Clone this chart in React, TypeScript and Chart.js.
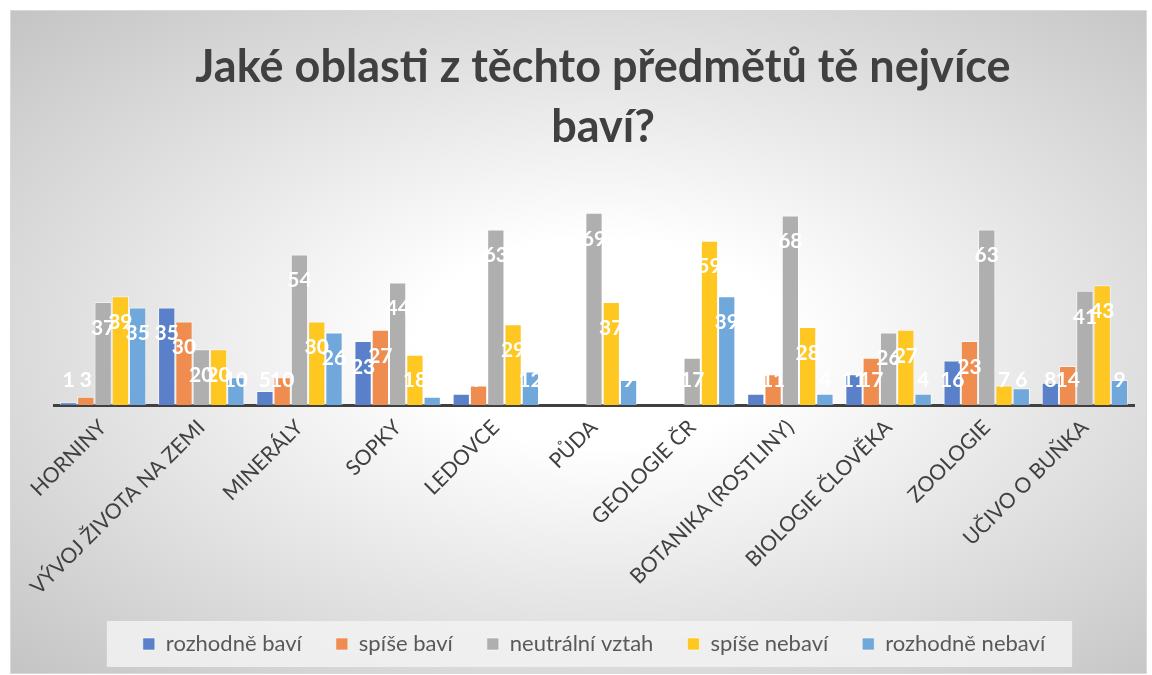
import React, { useEffect, useRef } from 'react';
import { Chart, registerables } from 'chart.js';

Chart.register(...registerables);

const categories = [
  'HORNINY',
  'VÝVOJ ŽIVOTA NA ZEMI',
  'MINERÁLY',
  'SOPKY',
  'LEDOVCE',
  'PŮDA',
  'GEOLOGIE ČR',
  'BOTANIKA (ROSTLINY)',
  'BIOLOGIE ČLOVĚKA',
  'ZOOLOGIE',
  'UČIVO O BUŇKA',
];
const rozhodneBavi = [1, 35, 5, 23, 4, 0, 0, 4, 11, 16, 8];
const spiseBavi = [3, 30, 10, 27, 7, 0, 0, 11, 17, 23, 14];
const neutralniVztah = [37, 20, 54, 44, 63, 69, 17, 68, 26, 63, 41];
const spiseNebavi = [39, 20, 30, 18, 29, 37, 59, 28, 27, 7, 43];
const rozhodneNebavi = [35, 10, 26, 3, 12, 9, 39, 4, 4, 6, 9];
const seriesNames = ['rozhodně baví', 'spíše baví', 'neutrální vztah', 'spíše nebaví', 'rozhodně nebaví'];
const seriesColors = ['#5A80C9', '#EE8D4F', '#AFAFAF', '#FFC721', '#70A8DB'];
const titleLines = ['Jaké oblasti z těchto předmětů tě nejvíce', 'baví?'];

const FONT = 'Lato, "Open Sans", sans-serif';

const titlePlugin = {
  id: 'customTitle',
  afterDraw(chart: any) {
    const ctx = chart.ctx;
    ctx.save();
    ctx.fillStyle = '#404040';
    ctx.font = `bold 45px ${FONT}`;
    ctx.textAlign = 'center';
    ctx.textBaseline = 'middle';
    const cx = (chart.chartArea.left + chart.chartArea.right) / 2 + 9;
    titleLines.forEach((line, i) => {
      ctx.fillText(line, cx, 56 + i * 60);
    });
    ctx.restore();
  },
};

const legendBoxPlugin = {
  id: 'legendBox',
  beforeDraw(chart: any) {
    const lg = chart.legend;
    if (!lg || !lg.legendHitBoxes || !lg.legendHitBoxes.length) return;
    const boxes = lg.legendHitBoxes;
    const left = Math.min(...boxes.map((b: any) => b.left));
    const right = Math.max(...boxes.map((b: any) => b.left + b.width));
    const top = boxes[0].top;
    const h = boxes[0].height;
    const ctx = chart.ctx;
    ctx.save();
    ctx.fillStyle = 'rgba(242,242,242,0.85)';
    ctx.fillRect(left - 36, top + h / 2 - 23, right - left + 63, 46);
    ctx.restore();
  },
};

const valueLabelPlugin = {
  id: 'valueLabels',
  afterDatasetsDraw(chart: any) {
    const ctx = chart.ctx;
    ctx.save();
    ctx.fillStyle = '#FFFFFF';
    ctx.font = `bold 21px ${FONT}`;
    ctx.textAlign = 'center';
    ctx.textBaseline = 'middle';
    chart.data.datasets.forEach((ds: any, di: number) => {
      const meta = chart.getDatasetMeta(di);
      meta.data.forEach((bar: any, i: number) => {
        const v = ds.data[i];
        if (!v) return;
        const y = Math.min(bar.y + 26, bar.base - 25);
        ctx.fillText(String(v), bar.x, y);
      });
    });
    ctx.restore();
  },
};

export default function App() {
  const ref = useRef<HTMLCanvasElement>(null);

  useEffect(() => {
    if (!ref.current) return;
    const series = [rozhodneBavi, spiseBavi, neutralniVztah, spiseNebavi, rozhodneNebavi];
    const chart = new Chart(ref.current, {
      type: 'bar',
      data: {
        labels: categories,
        datasets: series.map((d, i) => ({
          label: seriesNames[i],
          data: d,
          backgroundColor: seriesColors[i],
          borderColor: 'rgba(255,255,255,0.55)',
          borderWidth: 1,
          categoryPercentage: 0.88,
          barPercentage: 1.0,
        })),
      },
      options: {
        animation: false,
        responsive: false,
        layout: { padding: { left: 43, right: 12, top: 199, bottom: 8 } },
        plugins: {
          title: { display: false },
          tooltip: { enabled: false },
          legend: {
            display: true,
            position: 'bottom',
            labels: {
              boxWidth: 12,
              boxHeight: 12,
              padding: 34,
              color: '#595959',
              font: { family: FONT, size: 22 },
            },
          },
        },
        scales: {
          x: {
            grid: { display: false, drawTicks: false },
            border: { display: true, color: '#404040', width: 3 },
            ticks: {
              color: '#404040',
              font: { family: FONT, size: 21 },
              maxRotation: 45,
              minRotation: 45,
              autoSkip: false,
              padding: 10,
            },
            afterFit(scale: any) {
              scale.height = 194;
            },
          },
          y: {
            display: false,
            min: 0,
            max: 70,
          },
        },
      },
      plugins: [legendBoxPlugin, valueLabelPlugin, titlePlugin],
    });
    return () => chart.destroy();
  }, []);

  return (
    <div
      style={{
        position: 'absolute',
        left: 10,
        top: 10,
        width: 1137,
        height: 664,
        boxSizing: 'border-box',
        border: '1px solid #d9d9d9',
        background:
          'radial-gradient(ellipse farthest-corner at 52% 50%, #ffffff 0%, #ffffff 22%, #c4c4c4 100%)',
      }}
    >
      <canvas ref={ref} width={1135} height={662} style={{ display: 'block' }} />
    </div>
  );
}
